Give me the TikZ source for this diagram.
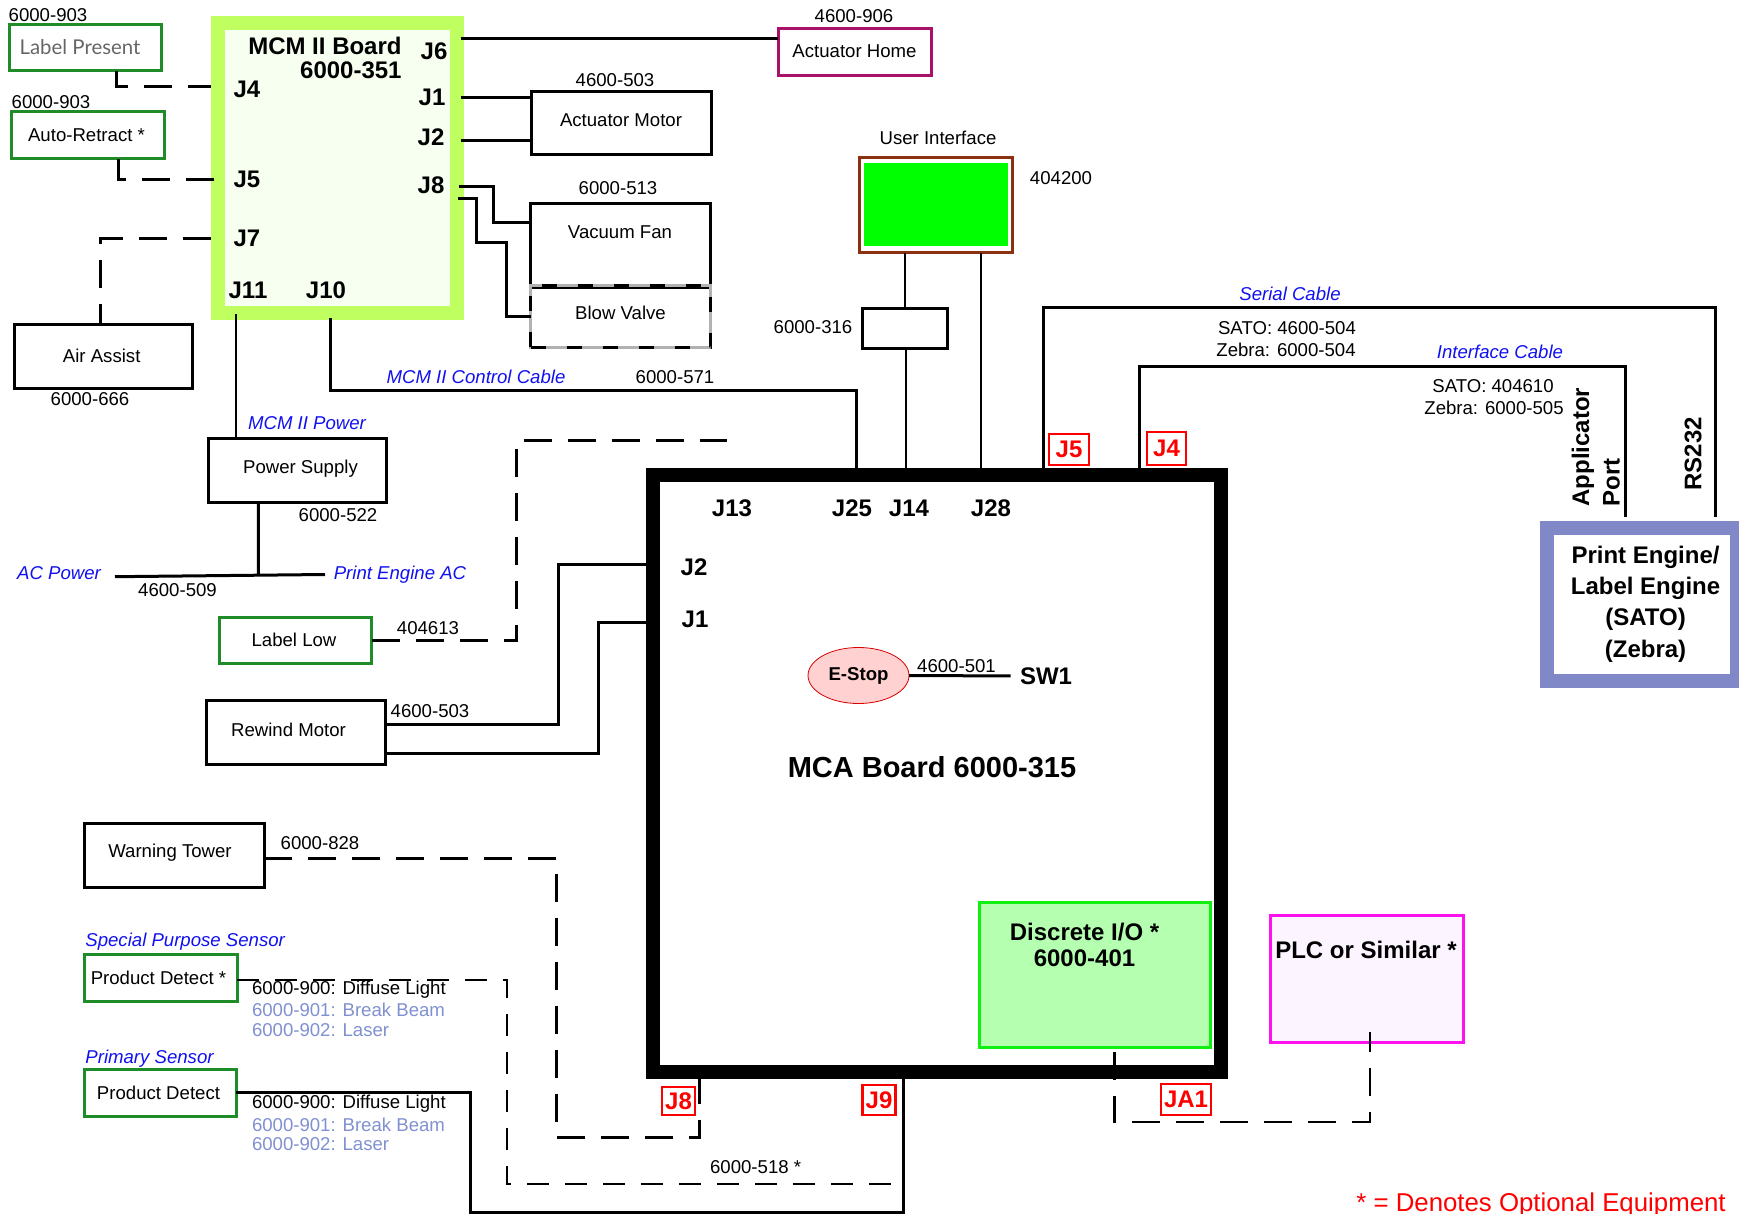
\documentclass[tikz,border=0pt]{standalone}
\usepackage{fontspec}
\setmainfont{Liberation Sans}
\newfontfamily\thinfont{Lato}
\usetikzlibrary{shapes.geometric}
\definecolor{mcmlime}{HTML}{C0FF60}
\definecolor{mcmpale}{HTML}{F7FFF0}
\definecolor{sensgreen}{HTML}{1E8C28}
\definecolor{homeplum}{HTML}{A8106A}
\definecolor{uibrown}{HTML}{8B3010}
\definecolor{peblue}{HTML}{8088C8}
\definecolor{altblue}{HTML}{8090D0}
\definecolor{cableblue}{HTML}{1010F0}
\definecolor{iofill}{HTML}{B4FFB0}
\definecolor{iogreen}{HTML}{10F010}
\definecolor{plcpink}{HTML}{FF10F0}
\definecolor{plcfill}{HTML}{FCF5FF}
\begin{document}
\begin{tikzpicture}[x=0.5pt,y=-0.5pt]
	\tikzstyle{box_black} = [rectangle, draw, line width=1.5pt, outer sep=0pt, inner sep=0pt, text height=6.6pt, font=\fontsize{9.3}{11}\selectfont]
	\tikzstyle{box_green} = [box_black, draw=sensgreen]
	\tikzstyle{box_plum} = [box_black, draw=homeplum]
	\tikzstyle{box_blow} = [box_black, dash pattern=on 7.5pt off 10.5pt, preaction={draw=gray!60, solid}]
	\tikzstyle{part_no} = [inner sep=0pt, font=\fontsize{9.3}{11}\selectfont]
	\tikzstyle{part_alt} = [part_no, anchor=west, text=altblue]
	\tikzstyle{cable_name} = [part_no, text=cableblue, font=\fontsize{9.3}{11}\selectfont\itshape]
	\tikzstyle{pin_name} = [inner sep=0pt, font=\fontsize{12}{12}\selectfont\bfseries]
	\tikzstyle{red_pin} = [rectangle, draw=red, fill=white, line width=1.4pt, inner sep=0pt, outer sep=0pt, text=red, font=\fontsize{12}{12}\selectfont\bfseries]
	\tikzstyle{edge} = [line width=1.5pt]
	\tikzstyle{thin_edge} = [line width=1pt]
	\tikzstyle{dash_edge} = [line width=1.5pt, dash pattern=on 14pt off 8pt]
	\tikzstyle{thin_dash} = [line width=1pt, dash pattern=on 11pt off 8pt]
	\useasboundingbox (0,0) rectangle (1739,1214);

	%boards
	\node[rectangle, draw=mcmlime, fill=mcmpale, line width=7pt, outer sep=0pt, minimum width=119.5pt, minimum height=145pt] (mcm) at (337.5,168) {};
	\node[rectangle, draw, line width=7pt, outer sep=0pt, minimum width=283.9pt, minimum height=298.5pt] (mca) at (936.9,773.5) {};
	\node[rectangle, draw=iogreen, fill=iofill, line width=1.5pt, outer sep=0pt, minimum width=115.5pt, minimum height=72.5pt] (discrete_io) at (1095,975) {};
	\node[rectangle, draw=plcpink, fill=plcfill, line width=1.5pt, outer sep=0pt, minimum width=96.5pt, minimum height=63.5pt] (plc) at (1367,979) {};
	\node[rectangle, draw=peblue, fill=white, line width=7pt, outer sep=0pt, minimum width=95pt, minimum height=76.5pt] (print_engine) at (1642,604.5) {};

	\node[pin_name, align=center, font=\fontsize{12}{15.6}\selectfont\bfseries] (pe_title) at (1645.5,604) {Print Engine/\\Label Engine\\(SATO)\\(Zebra)};
	\node[pin_name, anchor=east, align=right] (mcm_title) at (402,58) {MCM II Board\\6000-351};
	\node[inner sep=0pt, font=\fontsize{14.5}{16}\selectfont\bfseries] (mca_title) at (932,767.5) {MCA Board 6000-315};
	\node[pin_name, align=center, font=\fontsize{12}{13}\selectfont\bfseries] (discrete_title) at (1084.5,945) {Discrete I/O *\\6000-401};
	\node[pin_name] (plc_title) at (1366,950) {PLC or Similar *};

	%user interface
	\node[rectangle, draw=uibrown, fill=white, line width=1.5pt, outer sep=0pt, minimum width=76.5pt, minimum height=47.5pt] (user_interface) at (936,205.5) {};
	\node[rectangle, fill=green, inner sep=0pt, minimum width=72pt, minimum height=41.5pt] (ui_screen) at (936,204.5) {};

	%devices
	\foreach \name/\x/\y/\w/\h/\d/\txt in {actuator_motor/621/123.5/177/60/3.5/{Actuator Motor},
		vacuum_fan/620/245.75/177/80.5/14/{Vacuum Fan},
		air_assist/103.7/356/175/61/0/{Air Assist\hspace*{2pt}},
		power_supply/297.5/470/175.5/61/3/{\hspace*{3pt}Power Supply},
		rewind_motor/295.5/732/176/61/2/{Rewind Motor\hspace*{7pt}},
		warning_tower/174/855/177/61/4/{Warning Tower\hspace*{4pt}},
		cable_box/904.5/328/82/37/0/{}}
		\node[box_black, minimum width=(\w+3)*0.5pt, minimum height=(\h+3)*0.5pt, text depth=\d pt] (\name) at (\x,\y) {\txt};

	\node[box_blow, minimum width=90pt, minimum height=31pt, text depth=4pt] (blow_valve) at (620.5,316.5) {Blow Valve};

	\foreach \name/\x/\y/\w/\h/\d/\txt in {auto_retract/87.5/135.5/150/44/1/{Auto-Retract *\hspace*{1pt}},
		label_low/295.5/640/149/43/0/{Label Low\hspace*{1.5pt}},
		product_detect_opt/160.5/977.5/150/44/0/{Product Detect *\hspace*{2pt}},
		product_detect/160/1092.5/149/44/0/{Product Detect\hspace*{1.5pt}}}
		\node[box_green, minimum width=(\w+3)*0.5pt, minimum height=(\h+3)*0.5pt, text depth=\d pt] (\name) at (\x,\y) {\txt};

	\node[box_green, minimum width=76pt, minimum height=23pt, text depth=0pt] (label_present) at (85,48) {\fontsize{10.2}{11}\thinfont\color{black!60}Label Present\hspace*{5pt}};
	\node[box_plum, minimum width=76.5pt, minimum height=23.5pt, text depth=1.5pt] (actuator_home) at (854.5,52.5) {Actuator Home};

	\node[ellipse, draw=red!85!black, fill=red!18, thin, inner sep=0pt, outer sep=0pt, minimum width=50.5pt, minimum height=28pt, font=\fontsize{9.3}{11}\selectfont\bfseries] (estop) at (858.5,675.5) {E-Stop};

	%pin names
	\foreach \name/\x/\y/\txt in {p_j6/434/51/J6, p_j4/247/89/J4, p_j1/432/97/J1, p_j2/431/137/J2,
		p_j5/247/179/J5, p_j8/431/185/J8, p_j7/247/238/J7, p_j11/248/290/J11, p_j10/326/290/J10,
		a_j13/732/508/J13, a_j25/852/508/J25, a_j14/909/508/J14, a_j28/991/508/J28,
		a_j2/694/567/J2, a_j1/695/619/J1, sw1/1046/676/SW1}
		\node[pin_name] (\name) at (\x,\y) {\txt};

	\foreach \name/\x/\y/\w/\h/\txt in {r_j5/1069/449.5/40/31/J5, r_j4/1166.5/448.5/39/33/J4,
		r_j8/678.5/1101/33/28/J8, r_j9/879/1100/33/30/J9, r_ja1/1186/1099.5/50/31/JA1}
		\node[red_pin, minimum width=\w*0.5pt, minimum height=\h*0.5pt] (\name) at (\x,\y) {\txt};

	%part numbers
	\foreach \name/\x/\y/\txt in {n_lp/48/15/6000-903, n_ar/51/102/6000-903, n_am/615/80/4600-503,
		n_vf/618/188/6000-513, n_aa/90/399/6000-666, n_ah/854/16/4600-906, n_ui/938/137.5/User Interface,
		n_ui2/1061/178.5/404200, n_cb/813/327/6000-316, n_cc/675/377/6000-571, n_ps/338/515/6000-522,
		n_ac/177.5/590/4600-509, n_ll/428/628/404613, n_rm/430/711/4600-503, n_wt/320/843/6000-828,
		n_es/956.5/666/4600-501, n_sc1/1287/328/SATO: 4600-504, n_sc2/1286/350/Zebra: 6000-504,
		n_if1/1493/386/SATO: 404610, n_if2/1494/408/Zebra: 6000-505, n_pd/755.6/1167/6000-518 *}
		\node[part_no] (\name) at (\x,\y) {\txt};

	\foreach \name/\y/\txt in {s_900a/990/6000-900: Diffuse Light, s_900b/1104/6000-900: Diffuse Light}
		\node[part_no, anchor=west] (\name) at (251.6,\y) {\txt};
	\foreach \name/\y/\txt in {s_901a/1010/6000-901: Break Beam, s_902a/1030/6000-902: Laser,
		s_901b/1125/6000-901: Break Beam, s_902b/1144/6000-902: Laser}
		\node[part_alt] (\name) at (251.6,\y) {\txt};

	%cable names
	\foreach \name/\x/\y/\txt in {c_ctrl/476/377/MCM II Control Cable, c_pow/307/423/MCM II Power,
		c_ac/59/573/AC Power, c_peac/400/575/Print Engine AC, c_ser/1290/294/Serial Cable, c_if/1500/352/Interface Cable}
		\node[cable_name] (\name) at (\x,\y) {\txt};
	\node[cable_name, anchor=west] (c_sps) at (85,942) {Special Purpose Sensor};
	\node[cable_name, anchor=west] (c_prim) at (85,1059) {Primary Sensor};

	%ports on the print engine
	\foreach \name/\x/\y/\txt in {applicator/1583/507/Applicator, port/1611.5/507/Port, rs232/1693/491/RS232}
		\node[pin_name, rotate=90, anchor=west] (\name) at (\x,\y) {\txt};

	\node[inner sep=0pt, text=red, font=\fontsize{12.9}{14}\selectfont] (note) at (1541,1205) {* = Denotes Optional Equipment};

	%connector ends
	\foreach \name/\x/\y in {mcm_j4/211/87, mcm_j5/214/180, mcm_j7/211/239, mcm_j6/460.5/39, mcm_j1/460.5/98,
		mcm_j2/460.5/141, mcm_j8a/459/187, mcm_j8b/458/199, mcm_j11/235.5/314, mcm_j10/330/318,
		mca_j25/856.5/475, mca_j14/906/475, mca_j28/980.5/475, mca_j5/1043/475, mca_j4/1139/475,
		mca_j13/725.3/451, mca_j2/653/564.5, mca_j1/653/622, mca_j8/699.5/1072, mca_j9/903/1072,
		j9_tap/903/1184, pe_serial/1715/517, pe_iface/1625/517, ac_left/115/576.7, ac_right/325/574.5, ac_join/258.4/575.5}
		\coordinate (\name) at (\x,\y);

	\draw[dash_edge] ([xshift=15.5pt]label_present.south) |- (mcm_j4);
	\draw[dash_edge] ([xshift=15.5pt]auto_retract.south) |- (mcm_j5);
	\draw[dash_edge] (mcm_j7) -| ([xshift=-1.8pt]air_assist.north);
	\draw[edge] (mcm_j6) -- (mcm_j6 -| actuator_home.west);
	\draw[edge] (mcm_j1) -- (mcm_j1 -| actuator_motor.west);
	\draw[edge] (mcm_j2) -- (mcm_j2 -| actuator_motor.west);
	\draw[edge] (mcm_j8a) -- ++(34,0) |- ([yshift=11.5pt]vacuum_fan.west);
	\draw[edge] (mcm_j8b) -- ++(18.6,0) -- ++(0,44) -- ++(29.4,0) |- (blow_valve.west);
	\draw[thin_edge] (mcm_j11) -- (mcm_j11 |- power_supply.north);
	\draw[edge] (mcm_j10) -- ++(0,72) -| (mca_j25);

	\draw[thin_edge] (user_interface.south -| cable_box.north) -- (cable_box.north);
	\draw[thin_edge] (cable_box.south -| mca_j14) -- (mca_j14);
	\draw[thin_edge] (user_interface.south -| mca_j28) -- (mca_j28);
	\draw[edge] (mca_j5) -- ++(0,-168) -| (pe_serial);
	\draw[edge] (mca_j4) -- ++(0,-108.5) -| (pe_iface);

	\draw[edge] ([xshift=-19.6pt]power_supply.south) -- (ac_join);
	\draw[edge] (ac_left) -- (ac_right);
	\draw[dash_edge] (label_low.east) -| (516,440) -| (mca_j13);
	\draw[edge] ([yshift=4pt]rewind_motor.east) -| (558,564.5) -- (mca_j2);
	\draw[edge] ([yshift=-10.5pt]rewind_motor.east) -| (598,622) -- (mca_j1);
	\draw[edge, shorten >=4.5pt] (estop.east) -- (sw1.west);

	\draw[dash_edge] ([yshift=-1.5pt]warning_tower.east) -| (556.5,1137) -| (mca_j8);
	\draw[thin_dash] ([yshift=-1.2pt]product_detect_opt.east) -| (507,1184) -- (j9_tap);
	\draw[edge] (product_detect.east) -| (470,1212) -| (mca_j9);
	\draw[dash_edge, line width=1.2pt, shorten <=2pt] ([xshift=9.7pt]discrete_io.south) -- ++(0,74.5) -| ([xshift=1.5pt,yshift=5.5pt]plc.south);
\end{tikzpicture}
\end{document}
